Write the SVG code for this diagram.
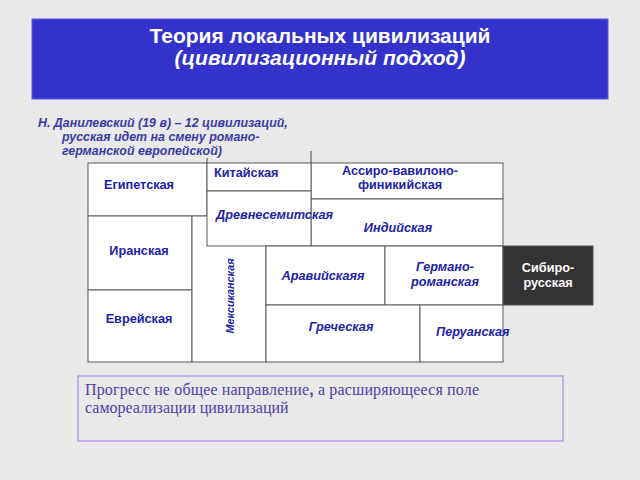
<svg xmlns="http://www.w3.org/2000/svg" width="640" height="480" viewBox="0 0 640 480">
<style>
.cell{fill:#ffffff;stroke:#5a5a5a;stroke-width:1}
.ln{stroke:#4a4a4a;stroke-width:1;fill:none}
.t{font-family:"Liberation Sans",Arial,sans-serif;font-weight:bold;font-size:12.7px;fill:#2222aa;text-anchor:middle}
.s{text-anchor:start}
.i{font-style:italic}
.w{fill:#ffffff}
.n{font-family:"Liberation Serif","Times New Roman",serif;font-size:16px;fill:#5040a8}
</style>
<rect width="640" height="480" fill="#e9e9e9"/>
<g id="title">
<rect x="32" y="19" width="576" height="80" fill="#3333cc" stroke="#5b5be0" stroke-width="1"/>
<text x="320" y="43" font-family="Liberation Sans,Arial,sans-serif" font-weight="bold" font-size="21" fill="#ffffff" text-anchor="middle">Теория локальных цивилизаций</text>
<text x="320" y="65" font-family="Liberation Sans,Arial,sans-serif" font-weight="bold" font-style="italic" font-size="21" fill="#ffffff" text-anchor="middle">(цивилизационный подход)</text>
</g>
<g id="subtitle" font-family="Liberation Sans,Arial,sans-serif" font-weight="bold" font-style="italic" font-size="12.4" fill="#3a3aa6">
<text x="38" y="127">Н. Данилевский (19 в) – 12 цивилизаций,</text>
<text x="62" y="141">русская идет на смену романо-</text>
<text x="62" y="155">германской европейской)</text>
</g>
<g id="grid">
<g id="egypt"><rect class="cell" x="88" y="163" width="119" height="53"/><text class="t" x="139" y="189">Египетская</text></g>
<g id="iran"><rect class="cell" x="88" y="216" width="104" height="74"/><text class="t" x="139" y="255">Иранская</text></g>
<g id="jewish"><rect class="cell" x="88" y="290" width="104" height="72"/><text class="t" x="139" y="323">Еврейская</text></g>
<g id="mexico"><rect class="cell" x="192" y="216" width="74" height="146"/><text class="t i" style="font-size:10.8px" transform="translate(234,296) rotate(-90)">Мексиканская</text></g>
<g id="assyria"><rect class="cell" x="311" y="163" width="192" height="36"/><text class="t" x="400" y="175">Ассиро-вавилоно-</text><text class="t" x="400" y="189">финикийская</text></g>
<g id="india"><rect class="cell" x="311" y="199" width="192" height="47"/><text class="t i" x="398" y="232">Индийская</text></g>
<g id="china"><rect class="cell" x="207" y="163" width="104" height="28"/><text class="t s" x="214" y="177">Китайская</text></g>
<g id="semitic"><rect class="cell" x="207" y="191" width="104" height="55"/><text class="t i s" x="216" y="219">Древнесемитская</text></g>
<g id="arabia"><rect class="cell" x="266" y="246" width="119" height="59"/><text class="t i" x="323" y="280">Аравийскаяя</text></g>
<g id="german"><rect class="cell" x="385" y="246" width="118" height="59"/><text class="t i" x="445" y="271">Германо-</text><text class="t i" x="445" y="286">романская</text></g>
<g id="greek"><rect class="cell" x="266" y="305" width="154" height="57"/><text class="t i" x="341" y="331">Греческая</text></g>
<g id="peru"><rect class="cell" x="420" y="305" width="83" height="57"/><text class="t i s" x="436" y="336">Перуанская</text></g>
<g id="siberia"><rect x="503" y="246" width="90" height="59" fill="#333333" stroke="#555555" stroke-width="1"/><text class="t w" x="548" y="272">Сибиро-</text><text class="t w" x="548" y="287">русская</text></g>
</g>
<g id="connectors">
<line class="ln" x1="207" y1="158" x2="207" y2="163"/>
<line class="ln" x1="311" y1="151" x2="311" y2="163"/>
</g>
<g id="note">
<rect x="78" y="376" width="485" height="65" fill="none" stroke="#b79ce6" stroke-width="1.5"/>
<text class="n" x="85" y="394.5" textLength="394" lengthAdjust="spacing">Прогресс не общее направление<tspan font-family="Liberation Sans,Arial,sans-serif" font-weight="bold">,</tspan> а расширяющееся поле</text>
<text class="n" x="85" y="413">самореализации цивилизаций</text>
</g>
</svg>
